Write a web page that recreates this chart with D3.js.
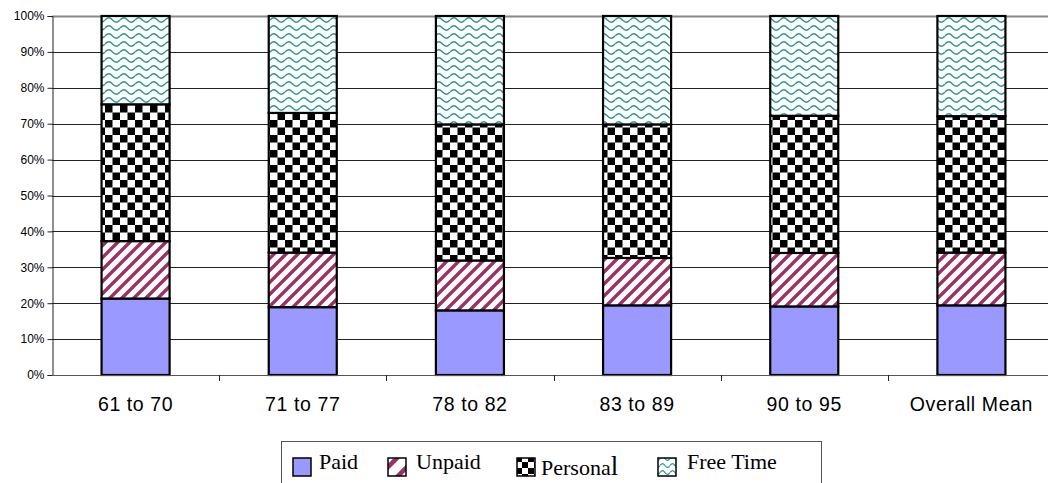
<!DOCTYPE html>
<html>
<head>
<meta charset="utf-8">
<script src="https://cdn.jsdelivr.net/npm/d3@7"></script>
<style>
  html, body { margin: 0; padding: 0; background: #fff; overflow: hidden; }
  svg { display: block; }
</style>
</head>
<body>
<svg id="chart" width="1048" height="483"></svg>
<script>
// Share of the day spent on each activity, by age group (percent).
const categories = ["61 to 70", "71 to 77", "78 to 82", "83 to 89", "90 to 95", "Overall Mean"];
const paid      = [21.3, 18.9, 18.0, 19.4, 19.1, 19.4];
const unpaid    = [16.0, 15.2, 13.9, 13.2, 14.9, 14.7];
const personal  = [38.1, 38.9, 37.9, 37.2, 38.2, 38.0];
const freeTime  = [24.6, 27.0, 30.2, 30.2, 27.8, 27.9];
const seriesNames = ["Paid", "Unpaid", "Personal", "Free Time"];
const yTicks = [0, 0.1, 0.2, 0.3, 0.4, 0.5, 0.6, 0.7, 0.8, 0.9, 1.0];

const rows = categories.map((c, i) => ({
  cat: c, "Paid": paid[i], "Unpaid": unpaid[i], "Personal": personal[i], "Free Time": freeTime[i]
}));

const svg = d3.select("#chart");
const defs = svg.append("defs");
const SANS = "'Liberation Sans', Arial, sans-serif";
const SERIF = "'Liberation Serif', 'Times New Roman', serif";

// ---- fill patterns ----
function stripes(id, size, w) {
  const p = defs.append("pattern").attr("id", id).attr("patternUnits", "userSpaceOnUse")
    .attr("width", size).attr("height", size);
  p.append("rect").attr("width", size).attr("height", size).attr("fill", "#fff");
  p.append("path")
    .attr("d", `M${-size/4},${size/4} L${size/4},${-size/4} M0,${size} L${size},0 M${size*3/4},${size*5/4} L${size*5/4},${size*3/4}`)
    .attr("stroke", "#993366").attr("stroke-width", w);
}
function checker(id, s) {
  const p = defs.append("pattern").attr("id", id).attr("patternUnits", "userSpaceOnUse")
    .attr("width", s * 2).attr("height", s * 2);
  p.append("rect").attr("width", s * 2).attr("height", s * 2).attr("fill", "#fff");
  p.append("rect").attr("width", s).attr("height", s).attr("fill", "#000");
  p.append("rect").attr("x", s).attr("y", s).attr("width", s).attr("height", s).attr("fill", "#000");
}
function waves(id, w, h, amp, sw) {
  const p = defs.append("pattern").attr("id", id).attr("patternUnits", "userSpaceOnUse")
    .attr("width", w).attr("height", h);
  p.append("rect").attr("width", w).attr("height", h).attr("fill", "#fff");
  const m = h / 2;
  p.append("path")
    .attr("d", `M0,${m} C${w*0.18},${m-amp*1.3} ${w*0.32},${m-amp*1.3} ${w/2},${m} S${w*0.82},${m+amp*1.3} ${w},${m}`)
    .attr("fill", "none").attr("stroke", "#2f9696").attr("stroke-width", sw);
}
stripes("pUnpaid", 12, 3.4);
checker("pPersonal", 7.5);
waves("pFree", 15, 8, 2.2, 1.5);
stripes("lUnpaid", 19, 4.5);
checker("lPersonal", 6);
waves("lFree", 10, 7, 2, 1.3);

const fills = {
  "Paid": "#9999ff",
  "Unpaid": "url(#pUnpaid)",
  "Personal": "url(#pPersonal)",
  "Free Time": "url(#pFree)"
};
const legendFills = {
  "Paid": "#9999ff",
  "Unpaid": "url(#lUnpaid)",
  "Personal": "url(#lPersonal)",
  "Free Time": "url(#lFree)"
};

// ---- scales ----
const plotLeft = 52, plotRight = 1055, plotTop = 16, plotBottom = 375;
const x = d3.scaleBand().domain(categories).range([plotLeft, plotRight])
  .paddingInner(0.593).paddingOuter(0.593 / 2);
const xCell = d3.scaleBand().domain(categories).range([plotLeft, plotRight]).padding(0);
const y = d3.scaleLinear().domain([0, 1]).range([plotBottom, plotTop]);

// ---- gridlines ----
svg.append("g").selectAll("line").data(yTicks.slice(1)).join("line")
  .attr("x1", plotLeft).attr("x2", 1048)
  .attr("y1", d => Math.round(y(d)) + 0.5).attr("y2", d => Math.round(y(d)) + 0.5)
  .attr("stroke", d => d === 1 ? "#888" : "#222")
  .attr("stroke-width", d => d === 1 ? 2 : 1);

// ---- bars ----
const stacked = d3.stack().keys(seriesNames).offset(d3.stackOffsetExpand)(rows);
svg.append("g").selectAll("g").data(stacked).join("g")
  .attr("fill", d => fills[d.key])
  .selectAll("rect").data(d => d).join("rect")
  .attr("x", d => x(d.data.cat))
  .attr("width", x.bandwidth())
  .attr("y", d => y(d[1]))
  .attr("height", d => y(d[0]) - y(d[1]))
  .attr("stroke", "#000").attr("stroke-width", 2.2);

// ---- axes ----
const yAxis = svg.append("g").attr("transform", `translate(${plotLeft + 0.5},0)`)
  .call(d3.axisLeft(y).tickValues(yTicks).tickFormat(d3.format(".0%")).tickSize(5).tickPadding(3));
yAxis.select(".domain").attr("stroke", "#222");
yAxis.selectAll(".tick line").attr("stroke", "#222");
yAxis.selectAll("text").attr("font-family", SANS)
  .attr("font-size", 12).attr("fill", "#000");

const xAxis = svg.append("g").attr("transform", `translate(0,${plotBottom + 0.5})`)
  .call(d3.axisBottom(xCell).tickSize(0));
xAxis.select(".domain").remove();
xAxis.selectAll("text").attr("font-family", SANS)
  .attr("font-size", 19.5).attr("letter-spacing", 0.6)
  .attr("y", 35).attr("dy", 0).attr("fill", "#000");
svg.append("line").attr("x1", plotLeft).attr("x2", 1048)
  .attr("y1", plotBottom + 0.5).attr("y2", plotBottom + 0.5).attr("stroke", "#555");
// category separators on the baseline
svg.append("g").selectAll("line").data(categories.slice(1)).join("line")
  .attr("x1", d => Math.round(xCell(d)) + 0.5).attr("x2", d => Math.round(xCell(d)) + 0.5)
  .attr("y1", plotBottom).attr("y2", plotBottom + 6).attr("stroke", "#222");

// ---- legend ----
const lg = svg.append("g");
lg.append("rect").attr("x", 281.5).attr("y", 441.5).attr("width", 540).attr("height", 60)
  .attr("fill", "#fff").attr("stroke", "#555");
const legendItems = [
  { key: "Paid", sx: 293, tx: 319 },
  { key: "Unpaid", sx: 388, tx: 416 },
  { key: "Personal", sx: 517, tx: 541 },
  { key: "Free Time", sx: 658, tx: 687 }
];
legendItems.forEach(it => {
  lg.append("rect").attr("x", it.sx).attr("y", 458).attr("width", 18).attr("height", 18)
    .attr("fill", legendFills[it.key]).attr("stroke", "#000").attr("stroke-width", 1.5);
  const t = lg.append("text").attr("x", it.tx)
    .attr("font-family", SERIF).attr("font-size", 22)
    .attr("fill", "#000");
  if (it.key === "Personal") {
    t.attr("y", 475);
    t.append("tspan").text("Persona");
    t.append("tspan").attr("font-size", 27).text("l");
  } else {
    t.attr("y", 469).text(it.key);
  }
});
</script>
</body>
</html>
